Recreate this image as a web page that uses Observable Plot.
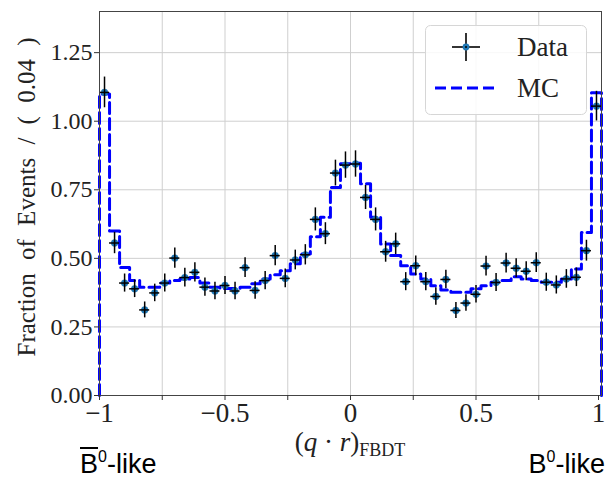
<!DOCTYPE html>
<html>
<head>
<meta charset="utf-8">
<script src="https://cdn.jsdelivr.net/npm/d3@7"></script>
<script src="https://cdn.jsdelivr.net/npm/@observablehq/plot@0.6"></script>
<style>
  html, body { margin: 0; padding: 0; background: white; }
  #wrap { position: relative; width: 606px; height: 479px; overflow: hidden; background: white; }
  #wrap svg { display: block; }
  .ov { position: absolute; white-space: nowrap; line-height: 1; }
  .sup { position: relative; top: -11px; font-size: 16px; }
</style>
</head>
<body>
<div id="wrap"></div>
<script>
// 50 bins of width 0.04 on [-1, 1]
const binCount = 50;
const binWidth = 0.04;
const data = [1.105, 0.556, 0.410, 0.389, 0.312, 0.374, 0.410, 0.501, 0.430, 0.449,
               0.395, 0.381, 0.401, 0.381, 0.466, 0.383, 0.419, 0.510, 0.427, 0.494,
               0.513, 0.642, 0.590, 0.811, 0.840, 0.844, 0.722, 0.642, 0.524, 0.553,
               0.415, 0.473, 0.415, 0.361, 0.423, 0.310, 0.337, 0.369, 0.472, 0.412,
               0.483, 0.464, 0.453, 0.484, 0.413, 0.403, 0.425, 0.431, 0.528, 1.055];
const dataErr = [0.056, 0.039, 0.033, 0.032, 0.029, 0.032, 0.033, 0.037, 0.034, 0.035,
                 0.033, 0.032, 0.033, 0.032, 0.036, 0.032, 0.033, 0.037, 0.034, 0.036,
                 0.037, 0.042, 0.040, 0.047, 0.048, 0.048, 0.044, 0.042, 0.038, 0.039,
                 0.033, 0.036, 0.033, 0.032, 0.034, 0.029, 0.030, 0.032, 0.036, 0.033,
                 0.036, 0.035, 0.035, 0.036, 0.033, 0.033, 0.034, 0.034, 0.038, 0.054];
const mc = [1.099, 0.600, 0.467, 0.419, 0.395, 0.395, 0.410, 0.419, 0.425, 0.430,
            0.410, 0.395, 0.390, 0.390, 0.395, 0.407, 0.425, 0.440, 0.455, 0.480,
            0.516, 0.579, 0.650, 0.758, 0.845, 0.847, 0.772, 0.650, 0.552, 0.510,
            0.473, 0.443, 0.425, 0.400, 0.385, 0.376, 0.376, 0.389, 0.400, 0.413,
            0.419, 0.433, 0.425, 0.419, 0.413, 0.413, 0.425, 0.461, 0.594, 1.104];
const xMajorTicks = [-1, -0.5, 0, 0.5];
const xLastTick = [1];
const xMinorTicks = [-0.75, -0.25, 0.25, 0.75];
const xGridTicks = [-0.75, -0.5, -0.25, 0, 0.25, 0.5, 0.75];
const yTicks = [0, 0.25, 0.5, 0.75, 1.0, 1.25];
const yLabel = "Fraction of Events / ( 0.04 )";

const rows = data.map((v, i) => ({
  x: -1 + binWidth * (i + 0.5), y: v, e: dataErr[i]
}));
const steps = [{x: -1, y: 0}]
  .concat(mc.map((v, i) => ({x: -1 + binWidth * i, y: v})))
  .concat([{x: 1, y: mc[binCount - 1]}, {x: 1, y: 0}]);

const fmtX = d => d === 0 ? "0" : (d < 0 ? "\u2212" : "") + Math.abs(d);
const serif = "'Liberation Serif', 'DejaVu Serif', serif";

const chart = Plot.plot({
  width: 606,
  height: 479,
  marginLeft: 99,
  marginRight: 5,
  marginTop: 11,
  marginBottom: 84,
  x: {domain: [-1, 1], label: null},
  y: {domain: [0, 1.4], label: null},
  style: {fontFamily: serif, background: "white", color: "#222"},
  marks: [
    Plot.gridX(xGridTicks, {stroke: "#cfcfcf", strokeOpacity: 1, strokeWidth: 1}),
    Plot.gridY(yTicks.slice(1), {stroke: "#cfcfcf", strokeOpacity: 1, strokeWidth: 1}),
    Plot.line(steps, {x: "x", y: "y", curve: "step-after", stroke: "#0000ff",
                      strokeWidth: 3, strokeDasharray: "11,5"}),
    Plot.dot(rows, {x: "x", y: "y", r: 3.4, fill: "#1f77b4", stroke: "#1f77b4", strokeWidth: 0.5}),
    Plot.ruleX(rows, {x: "x", y1: d => d.y - d.e, y2: d => d.y + d.e, stroke: "black", strokeWidth: 1.5}),
    Plot.ruleY(rows, {y: "y", x1: d => d.x - binWidth / 2, x2: d => d.x + binWidth / 2, stroke: "black", strokeWidth: 1.5}),
    Plot.frame({stroke: "#444", strokeWidth: 1}),
    Plot.axisX(xMajorTicks, {tickSize: 5, tickPadding: 2, fontSize: 27, tickFormat: fmtX, label: null, stroke: "#333"}),
    Plot.axisX(xLastTick, {tickSize: 5, tickPadding: 2, fontSize: 27, tickFormat: fmtX, label: null, stroke: "#333", dx: -3}),
    Plot.axisX(xMinorTicks, {tickSize: 5, tickFormat: () => "", label: null, stroke: "#333"}),
    Plot.axisY(yTicks, {tickSize: 5, tickPadding: 2, fontSize: 24, tickFormat: d => d.toFixed(2), label: null, stroke: "#333"})
  ]
});

const wrap = document.getElementById("wrap");
wrap.appendChild(chart);

function addDiv(html, css) {
  const d = document.createElement("div");
  d.className = "ov";
  d.innerHTML = html;
  Object.assign(d.style, css);
  wrap.appendChild(d);
  return d;
}

// y axis title
addDiv(yLabel, {
  left: "26px", top: "197px", fontFamily: serif, fontSize: "25px", color: "#222",
  wordSpacing: "7px", transform: "translate(-50%, -50%) rotate(-90deg)"
});
// x axis title
addDiv('(<i>q</i> \u00b7 <i>r</i>)<sub style="font-size:18px;vertical-align:-5px">FBDT</sub>', {
  left: "350px", top: "444px", fontFamily: serif, fontSize: "27px", color: "#222",
  transform: "translate(-50%, -50%)"
});
// flavour labels
const sans = "'Liberation Sans', Arial, sans-serif";
addDiv('<span style="text-decoration:overline;text-decoration-thickness:2px">B</span><span class="sup">0</span>-like', {
  left: "80px", top: "451px", fontFamily: sans, fontSize: "27px", color: "#000"
});
addDiv('B<span class="sup">0</span>-like', {
  right: "1px", top: "451px", fontFamily: sans, fontSize: "27px", color: "#000"
});

// legend
const ns = "http://www.w3.org/2000/svg";
const leg = document.createElementNS(ns, "svg");
leg.setAttribute("width", 606);
leg.setAttribute("height", 479);
leg.style.position = "absolute";
leg.style.left = "0px";
leg.style.top = "0px";
leg.innerHTML = `
  <rect x="425.5" y="25.5" width="161" height="89" rx="5" fill="white" fill-opacity="0.85" stroke="#d6d6d6" stroke-width="1"/>
  <line x1="452" y1="47" x2="480" y2="47" stroke="black" stroke-width="1.6"/>
  <line x1="466" y1="33" x2="466" y2="61" stroke="black" stroke-width="1.6"/>
  <circle cx="466" cy="47" r="3.4" fill="#1f77b4"/>
  <circle cx="466" cy="47" r="1" fill="black"/>
  <line x1="435" y1="88" x2="495" y2="88" stroke="#0000ff" stroke-width="3" stroke-dasharray="11,5"/>
  <text x="517" y="56" font-family="${serif}" font-size="27" fill="#222">Data</text>
  <text x="517" y="97" font-family="${serif}" font-size="27" fill="#222">MC</text>
`;
wrap.appendChild(leg);
</script>
</body>
</html>
